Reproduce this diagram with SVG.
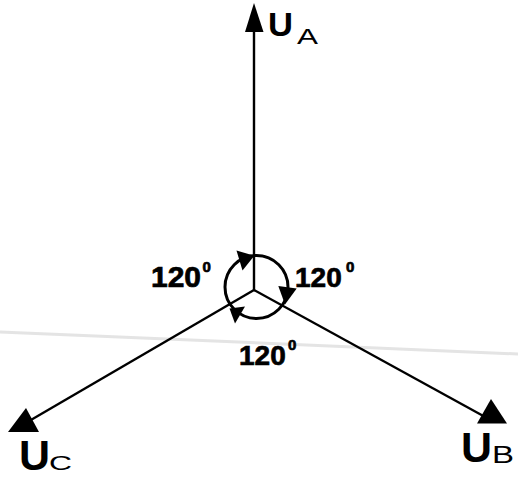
<svg xmlns="http://www.w3.org/2000/svg" width="518" height="480" viewBox="0 0 518 480">
<style>
.ln{stroke:#000;stroke-width:2.4;fill:none;stroke-linecap:butt}
.arc{stroke:#000;stroke-width:3;fill:none}
.ah{fill:#000;stroke:none}
.big{font-family:"Liberation Sans",Arial,sans-serif;font-weight:bold;fill:#000}
.sub{font-family:"Liberation Sans",Arial,sans-serif;font-weight:normal;fill:#000}
.deg{font-family:"Liberation Sans",Arial,sans-serif;font-weight:bold;fill:#000;stroke:#000;stroke-width:0.7}
</style>
<rect width="518" height="480" fill="#fff"/>
<line x1="0" y1="332" x2="518" y2="354" stroke="#dedede" stroke-width="3" opacity="0.8"/>
<g id="connectors">
<line class="ln" x1="254" y1="290" x2="254" y2="20"/>
<line class="ln" x1="254" y1="290" x2="487" y2="418"/>
<line class="ln" x1="254" y1="290" x2="24" y2="424"/>
<polygon class="ah" points="254,3 245,32 263.5,32"/>
<polygon class="ah" points="491,399 477,423.5 507,423.5"/>
<polygon class="ah" points="8,432 26,408 39,432"/>
</g>
<g id="angle-marks">
<circle class="arc" cx="256.5" cy="287" r="31.5"/>
<polygon class="ah" points="254.3,255.7 236.5,250.5 242.5,270.5"/>
<polygon class="ah" points="285,304.5 278.3,286 296.7,288.5"/>
<polygon class="ah" points="229.5,308.5 245,306.5 235,323.5"/>
</g>
<g id="UA">
<text class="big" x="268" y="35.5" font-size="33" textLength="25" lengthAdjust="spacingAndGlyphs">U</text>
<text class="sub" x="297" y="43.5" font-size="22" textLength="21" lengthAdjust="spacingAndGlyphs">A</text>
</g>
<g id="UB">
<text class="big" x="461" y="462" font-size="43">U</text>
<text class="sub" x="492" y="462.5" font-size="24" textLength="22" lengthAdjust="spacingAndGlyphs">B</text>
</g>
<g id="UC">
<text class="big" x="19" y="469.5" font-size="43">U</text>
<text class="sub" x="49" y="469.5" font-size="21" textLength="23" lengthAdjust="spacingAndGlyphs">C</text>
</g>
<g id="angle-left">
<text class="deg" x="151" y="286.5" font-size="30">120</text>
<text class="deg" x="202.5" y="271.5" font-size="15">0</text>
</g>
<g id="angle-right">
<text class="deg" x="295" y="287" font-size="28">120</text>
<text class="deg" x="346" y="272" font-size="15">0</text>
</g>
<g id="angle-bottom">
<text class="deg" x="239" y="365" font-size="28">120</text>
<text class="deg" x="288" y="350" font-size="15">0</text>
</g>
</svg>
